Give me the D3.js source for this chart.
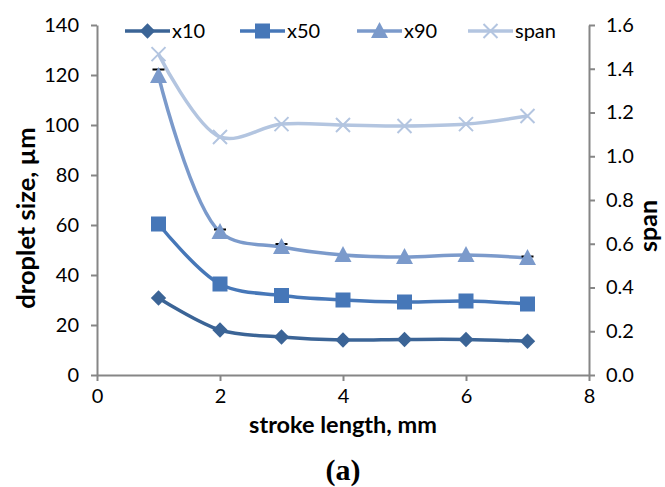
<!DOCTYPE html>
<html><head><meta charset="utf-8">
<script src="https://cdn.jsdelivr.net/npm/d3@7"></script>
<style>body{margin:0;background:#fff}svg{display:block}text{font-family:Lato,sans-serif}</style>
</head><body>
<script>
const strokeLength = [1,2,3,4,5,6,7];
const x10  = [30.8,18.0,15.2,14.0,14.2,14.2,13.5];
const x50  = [60.4,36.4,31.8,30.0,29.2,29.6,28.4];
const x90  = [119.6,57.2,51.2,48.0,47.2,48.0,46.8];
const span = [1.467,1.088,1.147,1.143,1.138,1.147,1.184];
const x90Err = [2.6,1.0,1.2,0,0,0,0.6];
const xTicks = [0,2,4,6,8];
const yTicks = [0,20,40,60,80,100,120,140];
const y2Ticks = [0,0.2,0.4,0.6,0.8,1.0,1.2,1.4,1.6];
const seriesNames = ["x10","x50","x90","span"];
const colors = ["#3B6496","#4677B8","#7B9ACB","#B3C5E0"];

const W=665,H=487;
const svg=d3.select("body").append("svg").attr("width",W).attr("height",H);
const x=d3.scaleLinear().domain([0,8]).range([97,589]);
const y=d3.scaleLinear().domain([0,140]).range([375,25]);
const y2=d3.scaleLinear().domain([0,1.6]).range([375,25]);
const axisCol="#868686";

function styleAxis(g){g.selectAll(".domain").attr("stroke",axisCol).attr("stroke-width",2);
 g.selectAll(".tick line").attr("stroke",axisCol).attr("stroke-width",2);
 g.selectAll(".tick text").attr("fill","#000").style("font-size","20px").style("font-family","Lato,sans-serif");}
svg.append("g").attr("transform","translate(0,375)").call(d3.axisBottom(x).tickValues(xTicks).tickSize(6).tickSizeOuter(0).tickPadding(8)).call(styleAxis);
svg.append("g").attr("transform","translate(97,0)").call(d3.axisLeft(y).tickValues(yTicks).tickSize(6).tickSizeOuter(0).tickPadding(12)).call(styleAxis);
svg.append("g").attr("transform","translate(589,0)").call(d3.axisRight(y2).tickValues(y2Ticks).tickFormat(d3.format(".1f")).tickSize(6).tickSizeOuter(0).tickPadding(11)).call(styleAxis);

const curve=d3.curveCatmullRom.alpha(0.5);
const data=[x10,x50,x90,span];
function drawMarker(g,i,cx,cy){
 if(i===0) g.append("path").attr("d",d3.symbol().type(d3.symbolDiamond2).size(150)()).attr("transform",`translate(${cx},${cy})`).attr("fill",colors[0]);
 else if(i===1) g.append("rect").attr("x",cx-7.5).attr("y",cy-7.5).attr("width",15).attr("height",15).attr("fill",colors[1]);
 else if(i===2) g.append("path").attr("d",`M${cx},${cy-9}L${cx+8.5},${cy+7}L${cx-8.5},${cy+7}Z`).attr("fill",colors[2]);
 else g.append("path").attr("d",`M${cx-7},${cy-7}L${cx+7},${cy+7}M${cx-7},${cy+7}L${cx+7},${cy-7}`).attr("stroke",colors[3]).attr("stroke-width",2);
}
data.forEach((vals,i)=>{
 const sc=i===3?y2:y;
 const line=d3.line().x((d,j)=>x(strokeLength[j])).y(d=>sc(d)).curve(curve);
 svg.append("path").datum(vals).attr("d",line).attr("fill","none").attr("stroke",colors[i]).attr("stroke-width",3.5);
});
x90.forEach((v,j)=>{ if(x90Err[j]>0){
 const cx=x(strokeLength[j]), cy=y(v+x90Err[j]);
 svg.append("line").attr("x1",cx-6).attr("x2",cx+6).attr("y1",cy).attr("y2",cy).attr("stroke","#000").attr("stroke-width",2);
}});
data.forEach((vals,i)=>{
 const sc=i===3?y2:y;
 const g=svg.append("g");
 vals.forEach((d,j)=>drawMarker(g,i,x(strokeLength[j]),sc(d)));
});
const legX=[125,240,357,468];
seriesNames.forEach((n,i)=>{
 const g=svg.append("g");
 g.append("line").attr("x1",legX[i]).attr("x2",legX[i]+45).attr("y1",31).attr("y2",31).attr("stroke",colors[i]).attr("stroke-width",3.5);
 drawMarker(g,i,legX[i]+22.5,31);
 g.append("text").attr("x",legX[i]+47).attr("y",38).text(n).style("font-size","20px");
});
svg.append("text").attr("x",343).attr("y",433).attr("text-anchor","middle").style("font-size","23.5px").style("font-weight","bold").text("stroke length, mm");
svg.append("text").attr("transform","translate(35,218) rotate(-90)").attr("text-anchor","middle").style("font-size","25.5px").style("font-weight","bold").text("droplet size, µm");
svg.append("text").attr("transform","translate(657,226) rotate(-90)").attr("text-anchor","middle").style("font-size","25px").style("font-weight","bold").text("span");
svg.append("text").attr("x",343).attr("y",480).attr("text-anchor","middle").style("font-size","30px").style("font-weight","bold").style("font-family","'Liberation Serif',serif").text("(a)");
</script>
</body></html>
